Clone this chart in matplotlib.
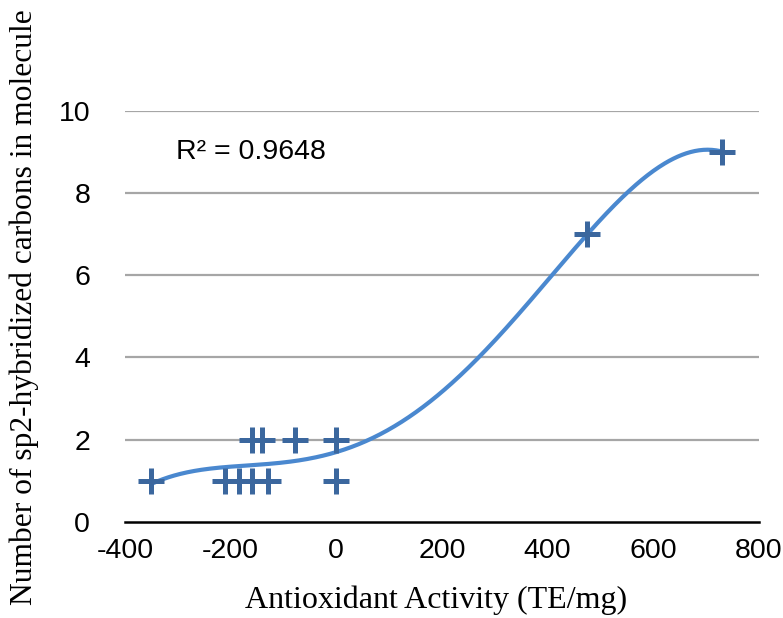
import numpy as np
import matplotlib
matplotlib.use("Agg")
import matplotlib.pyplot as plt

activity = [-350, -210, -185, -160, -130, -160, -140, -78, 0, 0, 474, 730]
sp2_carbons = [1, 1, 1, 1, 1, 2, 2, 2, 2, 1, 7, 9]
x_ticks = [-400, -200, 0, 200, 400, 600, 800]
y_ticks = [0, 2, 4, 6, 8, 10]
r2_label = "R² = 0.9648"
trend_order = 4

fig = plt.figure(figsize=(7.83, 6.18), dpi=100)
ax = fig.add_axes([0.1596, 0.1558, 0.8097, 0.6651])

for yv in y_ticks[1:]:
    ax.axhline(yv, color="#A6A6A6", lw=1.6, zorder=0)

x = np.array(activity, dtype=float)
y = np.array(sp2_carbons, dtype=float)
coef = np.polyfit(x, y, trend_order)
xs = np.linspace(x.min(), x.max(), 400)
ax.plot(xs, np.polyval(coef, xs), color="#4A88CF", lw=3.0, zorder=2,
        solid_capstyle="round")

ax.plot(x, y, linestyle="none", marker="+", markersize=19, markeredgewidth=3.6,
        color="#3B679E", zorder=3)

ax.set_xlim(-400, 800)
ax.set_ylim(0, 10)
ax.set_xticks(x_ticks)
ax.set_yticks(y_ticks)
ax.set_xticklabels([str(v) for v in x_ticks])
ax.set_yticklabels([str(v) for v in y_ticks])

for s in ["left", "right", "top"]:
    ax.spines[s].set_visible(False)
ax.spines["bottom"].set_linewidth(1.8)
ax.spines["bottom"].set_color("black")
ax.tick_params(axis="both", length=0, labelsize=20.5,
               labelfontfamily="Liberation Sans")
ax.tick_params(axis="y", pad=25)
ax.tick_params(axis="x", pad=12)

ax.text(-303, 9, r2_label, fontsize=20.5, family="Liberation Sans",
        va="center", ha="left")

ax.set_xlabel("Antioxidant Activity (TE/mg)", family="Liberation Serif",
              fontsize=23)
ax.set_ylabel("Number of sp2-hybridized carbons in molecule",
              family="Liberation Serif", fontsize=22.7)
ax.xaxis.set_label_coords(0.4905, -0.156)
ax.yaxis.set_label_coords(-0.135, 0.521)

fig.savefig("out.png", dpi=100)
